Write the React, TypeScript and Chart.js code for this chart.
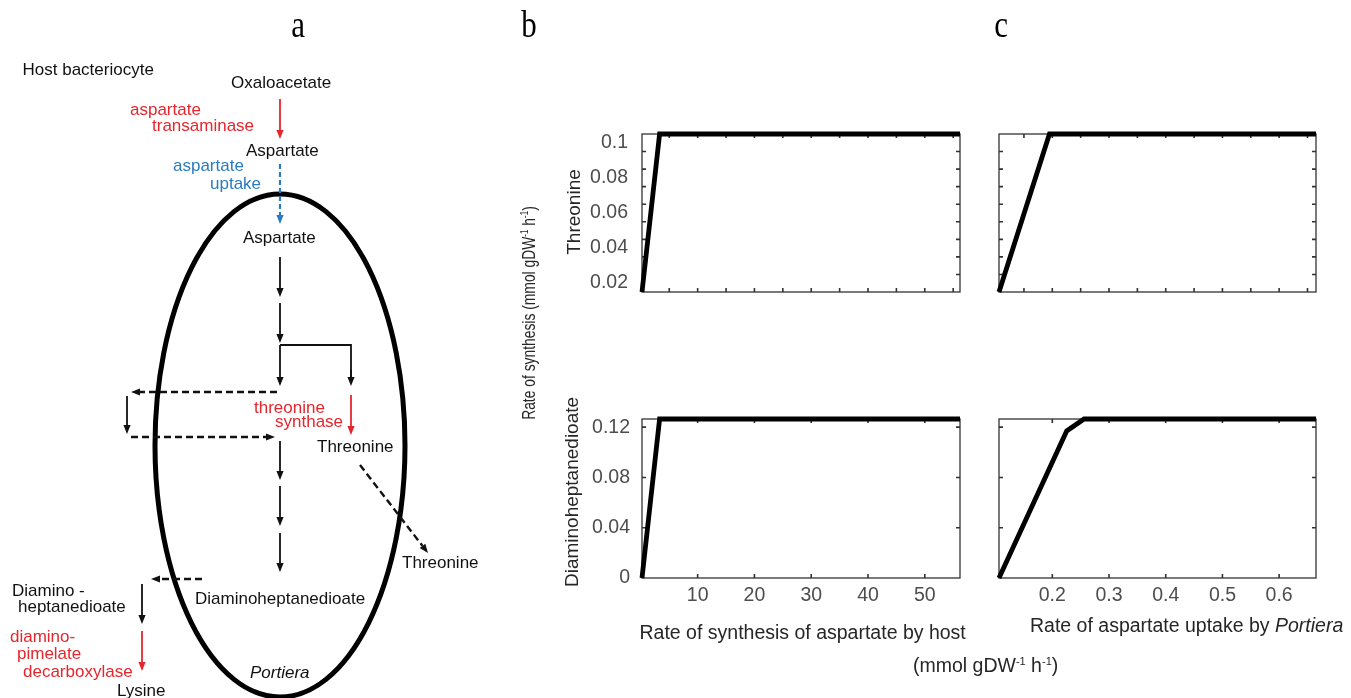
import React, { useEffect, useRef } from "react";
import { Chart, registerables } from "chart.js";
Chart.register(...registerables);

const SANS = "'Liberation Sans', Arial, Helvetica, sans-serif";
const SERIF = "'Liberation Serif', 'Times New Roman', serif";

// ---- data (panel b: x = rate of synthesis of aspartate by host) ----
const hostRateThr = [0.2, 3.3, 56.2];
const threonineByHost = [0.01, 0.1, 0.1];
const hostRateDap = [0.2, 3.3, 56.2];
const dapByHost = [0, 0.1265, 0.1265];

// ---- data (panel c: x = rate of aspartate uptake by Portiera) ----
const uptakeThr = [0.106, 0.195, 0.665];
const threonineByUptake = [0.01, 0.1, 0.1];
const uptakeDap = [0.106, 0.2254, 0.256, 0.665];
const dapByUptake = [0, 0.117, 0.1265, 0.1265];

// ---- axes ----
const thrYLabels = [0.02, 0.04, 0.06, 0.08, 0.1];
const thrYTicks = [0.02, 0.03, 0.04, 0.05, 0.06, 0.07, 0.08, 0.09];
const dapYLabels = [0, 0.04, 0.08, 0.12];
const dapYTicks = [0.04, 0.08, 0.12];
const hostXLabels = [10, 20, 30, 40, 50];
const hostXTicksTop = [5, 10, 15, 20, 25, 30, 35, 40, 45, 50, 55];
const uptakeXLabels = [0.2, 0.3, 0.4, 0.5, 0.6];
const uptakeXTicksTop = [0.15, 0.2, 0.25, 0.3, 0.35, 0.4, 0.45, 0.5, 0.55, 0.6, 0.65];

const boxTicks = {
  id: "boxTicks",
  beforeDatasetsDraw(chart: any, _args: any, opts: any) {
    const { ctx, chartArea: a, scales } = chart;
    ctx.save();
    ctx.strokeStyle = "#333";
    ctx.lineWidth = 1.3;
    ctx.strokeRect(a.left, a.top, a.right - a.left, a.bottom - a.top);
    const L = 4;
    ctx.lineWidth = 1.6;
    ctx.beginPath();
    for (const v of opts.xTicks || []) {
      const px = scales.x.getPixelForValue(v);
      ctx.moveTo(px, a.bottom);
      ctx.lineTo(px, a.bottom - L);
      ctx.moveTo(px, a.top);
      ctx.lineTo(px, a.top + L);
    }
    for (const v of opts.yTicks || []) {
      const py = scales.y.getPixelForValue(v);
      ctx.moveTo(a.left, py);
      ctx.lineTo(a.left + L, py);
      ctx.moveTo(a.right, py);
      ctx.lineTo(a.right - L, py);
    }
    ctx.stroke();
    ctx.restore();
  },
};

type PanelProps = {
  rect: { left: number; top: number; width: number; height: number };
  area: { l: number; t: number; r: number; b: number };
  xs: number[];
  ys: number[];
  xMin: number;
  xMax: number;
  yMin: number;
  yMax: number;
  xLabels: number[];
  yLabels: number[];
  showX: boolean;
  showY: boolean;
  xTicks: number[];
  yTicks: number[];
  yLabelOffset: number;
  yPad: number;
};

function Panel(p: PanelProps) {
  const ref = useRef<HTMLCanvasElement | null>(null);
  useEffect(() => {
    if (!ref.current) return;
    const { rect, area } = p;
    const yWidth = area.l - rect.left;
    const xHeight = rect.top + rect.height - area.b;
    const padTop = area.t - rect.top;
    const padRight = rect.left + rect.width - area.r;
    const zeroPad = (s: any) => {
      s.paddingTop = 0;
      s.paddingBottom = 0;
      s.paddingLeft = 0;
      s.paddingRight = 0;
    };
    const chart = new Chart(ref.current, {
      type: "line",
      data: {
        datasets: [
          {
            data: p.xs.map((x, i) => ({ x, y: p.ys[i] })),
            borderColor: "#000",
            borderWidth: 4.8,
            pointRadius: 0,
            tension: 0,
            fill: false,
            clip: false as any,
          },
        ],
      },
      options: {
        responsive: false,
        animation: false,
        devicePixelRatio: 1,
        layout: { padding: { left: 0, top: padTop, right: padRight, bottom: 0 } },
        plugins: {
          legend: { display: false },
          tooltip: { enabled: false },
          boxTicks: { xTicks: p.xTicks, yTicks: p.yTicks },
        } as any,
        scales: {
          x: {
            type: "linear",
            min: p.xMin,
            max: p.xMax,
            grid: { display: false, drawTicks: false },
            border: { display: false },
            afterBuildTicks: (s: any) => {
              s.ticks = p.xLabels.map((v) => ({ value: v }));
            },
            afterFit: (s: any) => {
              s.height = xHeight;
              zeroPad(s);
            },
            ticks: {
              display: p.showX,
              autoSkip: false,
              maxRotation: 0,
              minRotation: 0,
              padding: 6,
              color: "#4d4d4d",
              font: { family: SANS, size: 19.5 },
              callback: (v: any) => String(v),
            },
          },
          y: {
            type: "linear",
            min: p.yMin,
            max: p.yMax,
            grid: { display: false, drawTicks: false },
            border: { display: false },
            afterBuildTicks: (s: any) => {
              s.ticks = p.yLabels.map((v) => ({ value: v }));
            },
            afterFit: (s: any) => {
              s.width = yWidth;
              zeroPad(s);
            },
            ticks: {
              display: p.showY,
              autoSkip: false,
              padding: p.yPad,
              labelOffset: p.yLabelOffset,
              color: "#4d4d4d",
              font: { family: SANS, size: 19.5 },
              callback: (v: any) => String(v),
            },
          },
        },
      },
      plugins: [boxTicks],
    } as any);
    return () => chart.destroy();
  }, []);
  return (
    <canvas
      ref={ref}
      width={p.rect.width}
      height={p.rect.height}
      style={{
        position: "absolute",
        left: p.rect.left,
        top: p.rect.top,
        width: p.rect.width,
        height: p.rect.height,
      }}
    />
  );
}

function Arrow({
  x1, y1, x2, y2, color = "#111", dashed = false, w = 1.8, dash = "7 4",
}: any) {
  const dx = x2 - x1, dy = y2 - y1;
  const len = Math.hypot(dx, dy);
  const ux = dx / len, uy = dy / len;
  const hl = 9, hw = 3.6;
  const bx = x2 - ux * hl, by = y2 - uy * hl;
  const px = -uy, py = ux;
  return (
    <g>
      <line x1={x1} y1={y1} x2={bx} y2={by} stroke={color} strokeWidth={w}
        strokeDasharray={dashed ? dash : undefined} />
      <polygon
        points={`${x2},${y2} ${bx + px * hw},${by + py * hw} ${bx - px * hw},${by - py * hw}`}
        fill={color}
      />
    </g>
  );
}

const RED = "#e4262d";
const BLUE = "#2a7bc2";

function T({ x, y, c = "#111", children, italic = false, size = 17 }: any) {
  return (
    <text x={x} y={y} fill={c} fontSize={size} fontFamily={SANS}
      fontStyle={italic ? "italic" : "normal"}>
      {children}
    </text>
  );
}

function Diagram() {
  return (
    <g>
      <ellipse cx={280} cy={445.5} rx={125} ry={251.5} fill="none" stroke="#000" strokeWidth={5} />
      <T x={22.5} y={75}>Host bacteriocyte</T>
      <T x={231} y={88}>Oxaloacetate</T>
      <T x={130} y={115} c={RED}>aspartate</T>
      <T x={152} y={131} c={RED}>transaminase</T>
      <Arrow x1={280} y1={99} x2={280} y2={139} color={RED} />
      <T x={246} y={156}>Aspartate</T>
      <T x={173} y={171} c={BLUE}>aspartate</T>
      <T x={210} y={189} c={BLUE}>uptake</T>
      <Arrow x1={280} y1={164} x2={280} y2={224} color={BLUE} dashed dash="5 3" w={2.2} />
      <T x={243} y={243}>Aspartate</T>
      <Arrow x1={280} y1={257} x2={280} y2={297} />
      <Arrow x1={280} y1={303} x2={280} y2={343} />
      <Arrow x1={280} y1={345} x2={280} y2={386} />
      <polyline points="280,345 351,345 351,377" fill="none" stroke="#111" strokeWidth={1.8} />
      <Arrow x1={351} y1={370} x2={351} y2={386} />
      <Arrow x1={277} y1={392} x2={131} y2={392} dashed w={2.4} />
      <Arrow x1={127} y1={396} x2={127} y2={434} />
      <Arrow x1={131} y1={437} x2={275} y2={437} dashed w={2.4} />
      <Arrow x1={351} y1={395} x2={351} y2={435} color={RED} />
      <T x={254} y={412.5} c={RED}>threonine</T>
      <T x={275} y={427} c={RED}>synthase</T>
      <T x={317} y={451.5}>Threonine</T>
      <Arrow x1={360} y1={465} x2={428} y2={553} dashed w={2.4} />
      <T x={402} y={567.5}>Threonine</T>
      <Arrow x1={280} y1={441} x2={280} y2={480} />
      <Arrow x1={280} y1={486} x2={280} y2={526} />
      <Arrow x1={280} y1={533} x2={280} y2={572} />
      <Arrow x1={202} y1={579} x2={151} y2={579} dashed w={2.4} />
      <T x={195} y={603.5}>Diaminoheptanedioate</T>
      <T x={12} y={595.5}>Diamino -</T>
      <T x={18} y={612}>heptanedioate</T>
      <Arrow x1={142} y1={584} x2={142} y2={624} />
      <Arrow x1={142} y1={631} x2={142} y2={671} color={RED} />
      <T x={10} y={642} c={RED}>diamino-</T>
      <T x={17} y={659} c={RED}>pimelate</T>
      <T x={23} y={676.5} c={RED}>decarboxylase</T>
      <T x={117} y={695.5}>Lysine</T>
      <T x={250} y={677.5} italic>Portiera</T>
    </g>
  );
}

function Letter({ x, y, ch }: any) {
  return (
    <g transform={`translate(${x},${y}) scale(1,1.25)`}>
      <text x={0} y={0} textAnchor="middle" fontFamily={SERIF} fontSize={31} fill="#000">{ch}</text>
    </g>
  );
}

function Titles() {
  const tc = "#262626";
  return (
    <g>
      <Letter x={298} y={36.5} ch="a" />
      <Letter x={529} y={36.5} ch="b" />
      <Letter x={1001} y={36.5} ch="c" />
      <g transform="translate(534.5,313) rotate(-90) scale(0.77,1)">
        <text x={0} y={0} textAnchor="middle" fontFamily={SANS} fontSize={18} fill={tc}>
          Rate of synthesis (mmol gDW
          <tspan dy={-7} fontSize={10.5}>-1</tspan>
          <tspan dy={7}> h</tspan>
          <tspan dy={-7} fontSize={10.5}>-1</tspan>
          <tspan dy={7}>)</tspan>
        </text>
      </g>
      <text transform="translate(580,212) rotate(-90)" textAnchor="middle" fontFamily={SANS} fontSize={19} fill={tc}>
        Threonine
      </text>
      <text transform="translate(578,492) rotate(-90)" textAnchor="middle" fontFamily={SANS} fontSize={19} fill={tc}>
        Diaminoheptanedioate
      </text>
      <text x={639.5} y={638.5} fontFamily={SANS} fontSize={19.5} fill={tc}>
        Rate of synthesis of aspartate by host
      </text>
      <text x={913} y={672} fontFamily={SANS} fontSize={19.5} fill={tc}>
        (mmol gDW
        <tspan dy={-7} fontSize={11}>-1</tspan>
        <tspan dy={7}> h</tspan>
        <tspan dy={-7} fontSize={11}>-1</tspan>
        <tspan dy={7}>)</tspan>
      </text>
      <text x={1030} y={631.5} fontFamily={SANS} fontSize={19.5} fill={tc}>
        Rate of aspartate uptake by <tspan fontStyle="italic">Portiera</tspan>
      </text>
    </g>
  );
}

export default function App() {
  const bCol = { left: 575, width: 400 };
  const cCol = { left: 985, width: 366 };
  const row1 = { top: 110, height: 200 };
  const row2 = { top: 400, height: 215 };
  return (
    <div style={{ position: "absolute", left: 0, top: 0, width: 1351, height: 698, background: "#fff", overflow: "hidden" }}>
      <Panel
        rect={{ ...bCol, ...row1 }}
        area={{ l: 642, t: 134, r: 960, b: 292 }}
        xs={hostRateThr} ys={threonineByHost}
        xMin={0.2} xMax={56.2} yMin={0.01} yMax={0.1}
        xLabels={hostXLabels} yLabels={thrYLabels}
        showX={false} showY={true}
        xTicks={hostXTicksTop} yTicks={thrYTicks}
        yLabelOffset={8.5} yPad={14}
      />
      <Panel
        rect={{ ...bCol, ...row2 }}
        area={{ l: 642, t: 419, r: 960, b: 578 }}
        xs={hostRateDap} ys={dapByHost}
        xMin={0.2} xMax={56.2} yMin={0} yMax={0.1265}
        xLabels={hostXLabels} yLabels={dapYLabels}
        showX={true} showY={true}
        xTicks={hostXLabels} yTicks={dapYTicks}
        yLabelOffset={0} yPad={12}
      />
      <Panel
        rect={{ ...cCol, ...row1 }}
        area={{ l: 999, t: 134, r: 1316, b: 292 }}
        xs={uptakeThr} ys={threonineByUptake}
        xMin={0.106} xMax={0.665} yMin={0.01} yMax={0.1}
        xLabels={uptakeXLabels} yLabels={thrYLabels}
        showX={false} showY={false}
        xTicks={uptakeXTicksTop} yTicks={thrYTicks}
        yLabelOffset={0} yPad={0}
      />
      <Panel
        rect={{ ...cCol, ...row2 }}
        area={{ l: 999, t: 419, r: 1316, b: 578 }}
        xs={uptakeDap} ys={dapByUptake}
        xMin={0.106} xMax={0.665} yMin={0} yMax={0.1265}
        xLabels={uptakeXLabels} yLabels={dapYLabels}
        showX={true} showY={false}
        xTicks={uptakeXLabels} yTicks={dapYTicks}
        yLabelOffset={0} yPad={0}
      />
      <svg width={1351} height={698} style={{ position: "absolute", left: 0, top: 0, pointerEvents: "none" }}>
        <Diagram />
        <Titles />
      </svg>
    </div>
  );
}
